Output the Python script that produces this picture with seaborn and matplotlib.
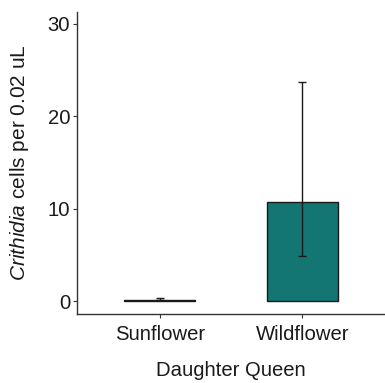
import pandas as pd
import seaborn as sns
import matplotlib.pyplot as plt

queens = ['Sunflower', 'Wildflower']
mean_cells = [0.1, 10.7]
err_low = [0.1, 4.85]
err_high = [0.35, 23.7]

sns.set_style('white')
plt.rcParams['font.family'] = ['Liberation Sans', 'DejaVu Sans']
plt.rcParams['mathtext.fontset'] = 'custom'
plt.rcParams['mathtext.it'] = 'Liberation Sans:italic'
plt.rcParams['mathtext.rm'] = 'Liberation Sans'

data = pd.DataFrame({'queen': queens, 'cells': mean_cells})

fig = plt.figure(figsize=(3.85, 3.83), dpi=100)
ax_ = fig.add_axes([0.2, 0.18, 0.8, 0.789])

sns.barplot(
    data=data,
    x='queen',
    y='cells',
    color='#137673',
    saturation=1,
    width=0.5,
    edgecolor='#1a1a1a',
    linewidth=1,
    errorbar=None,
    ax=ax_,
    )

yerr = [
    [m - lo for m, lo in zip(mean_cells, err_low)],
    [hi - m for m, hi in zip(mean_cells, err_high)],
]
ax_.errorbar(
    x=range(len(queens)),
    y=mean_cells,
    yerr=yerr,
    fmt='none',
    ecolor='#1a1a1a',
    elinewidth=1,
    capsize=3,
    capthick=1,
    )

ax_.set_ylim(-1.4, 31.3)
ax_.set_xlim(-0.58, 1.58)
ax_.set_yticks([0, 10, 20, 30])

ax_.set_xlabel('Daughter Queen', fontsize=14.6, color='#1a1a1a', labelpad=12)
ax_.set_ylabel(r'$\it{Crithidia}$ cells per 0.02 uL', fontsize=15,
               color='#1a1a1a', labelpad=12)

ax_.tick_params(axis='both', which='both', direction='out', length=3,
                width=0.8, color='#333333', labelsize=14.6,
                labelcolor='#1a1a1a', bottom=True, left=True, pad=2)
ax_.tick_params(axis='x', pad=5)

ax_.spines['top'].set_visible(False)
ax_.spines['right'].set_visible(False)
for s in ['left', 'bottom']:
    ax_.spines[s].set_color('#333333')
    ax_.spines[s].set_linewidth(1)

plt.savefig('out.png', dpi=100)
